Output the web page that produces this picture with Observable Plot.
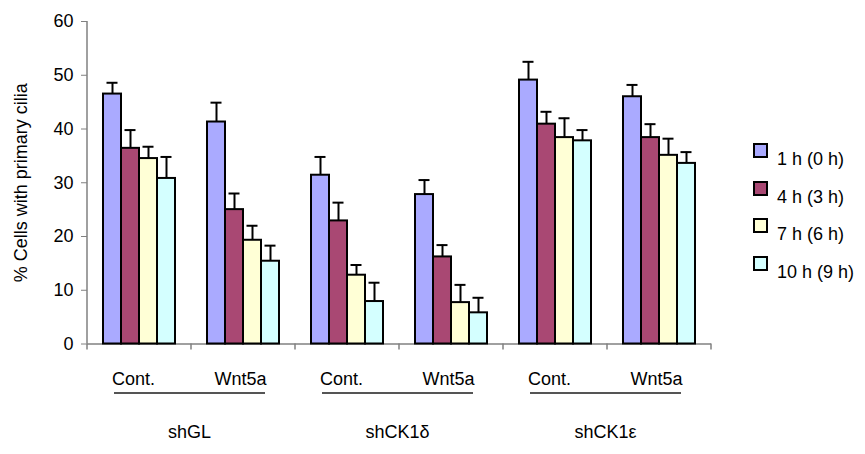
<!DOCTYPE html>
<html><head><meta charset="utf-8">
<script src="https://cdn.jsdelivr.net/npm/d3@7"></script>
<script src="https://cdn.jsdelivr.net/npm/@observablehq/plot@0.6"></script>
<style>
body{margin:0;background:#fff;}
#chart{position:relative;width:865px;height:454px;font-family:"Liberation Sans",Arial,sans-serif;color:#000;}
.sw{position:absolute;width:15px;height:15px;box-sizing:border-box;border:2px solid #000;}
.lt{position:absolute;font-size:18px;line-height:18px;white-space:nowrap;}
</style></head><body><div id="chart"></div>
<script>
const knockdowns = ["shGL", "shCK1δ", "shCK1ε"];
const treatments = ["Cont.", "Wnt5a"];
const series = ["1 h (0 h)", "4 h (3 h)", "7 h (6 h)", "10 h (9 h)"];
const colors = ["#AAAAFF", "#A94873", "#FFFFD6", "#D4FFFF"];
const yTicks = [0, 10, 20, 30, 40, 50, 60];
// values per series, in order: shGL Cont., shGL Wnt5a, shCK1δ Cont., shCK1δ Wnt5a, shCK1ε Cont., shCK1ε Wnt5a
const v1h  = [46.5, 41.3, 31.4, 27.8, 49.1, 46.0];
const v4h  = [36.4, 25.0, 22.9, 16.2, 40.9, 38.4];
const v7h  = [34.5, 19.3, 12.8, 7.7, 38.4, 35.1];
const v10h = [30.8, 15.4, 7.9, 5.8, 37.8, 33.6];
const e1h  = [2.1, 3.6, 3.4, 2.7, 3.4, 2.2];
const e4h  = [3.4, 3.0, 3.4, 2.2, 2.3, 2.5];
const e7h  = [2.2, 2.7, 1.9, 3.3, 3.6, 3.1];
const e10h = [4.0, 2.9, 3.5, 2.8, 2.0, 2.1];

const values = [v1h, v4h, v7h, v10h];
const errors = [e1h, e4h, e7h, e10h];

const cells = [];
knockdowns.forEach(k => treatments.forEach(t => cells.push({key: k + " " + t, knockdown: k, treatment: t})));
const keys = cells.map(c => c.key);
const rows = [];
cells.forEach((c, gi) => series.forEach((s, si) => rows.push({
  key: c.key, series: s, value: values[si][gi], upper: values[si][gi] + errors[si][gi]
})));
const contCells = cells.filter(c => c.treatment === treatments[0]);
const wntCells = cells.filter(c => c.treatment === treatments[1]);

const plot = Plot.plot({
  width: 865, height: 454,
  marginLeft: 85, marginRight: 152, marginTop: 21, marginBottom: 110.5,
  style: {fontFamily: "'Liberation Sans', Arial, sans-serif", fontSize: "18px", color: "#000", background: "#fff", overflow: "visible"},
  fx: {domain: keys, padding: 0, axis: null},
  x: {domain: series, paddingInner: 0, paddingOuter: 0.75, axis: null},
  y: {domain: [0, 60]},
  color: {domain: series, range: colors},
  marks: [
    Plot.ruleY([0], {stroke: "#808080", strokeWidth: 1.5}),
    Plot.barY(rows, {fx: "key", x: "series", y: "value", fill: "series", stroke: "#000", strokeWidth: 2}),
    Plot.ruleX(rows, {fx: "key", x: "series", y1: "value", y2: "upper", stroke: "#000", strokeWidth: 2}),
    Plot.tickY(rows, {fx: "key", x: "series", y: "upper", stroke: "#000", strokeWidth: 2, insetLeft: 3.5, insetRight: 3.5}),
    Plot.axisY({ticks: yTicks, tickSize: 6, tickPadding: 8, stroke: "#808080", tickFormat: d => d,
      label: "% Cells with primary cilia", labelAnchor: "center", labelArrow: "none", labelOffset: 73}),
    Plot.text(contCells, {fx: "key", text: "treatment", frameAnchor: "bottom", dx: -6, dy: 40.5, lineAnchor: "bottom", fill: "#000"}),
    Plot.text(wntCells, {fx: "key", text: "treatment", frameAnchor: "bottom", dx: -3, dy: 40.5, lineAnchor: "bottom", fill: "#000"}),
    Plot.ruleY(contCells, {fx: "key", y: () => 0, dy: 49, insetLeft: 27, insetRight: 0, stroke: "#555", strokeWidth: 1.8}),
    Plot.ruleY(wntCells, {fx: "key", y: () => 0, dy: 49, insetLeft: 0, insetRight: 30, stroke: "#555", strokeWidth: 1.8}),
    Plot.text(contCells, {fx: "key", text: "knockdown", frameAnchor: "bottom-right", textAnchor: "middle", dx: -2, dy: 93.5, lineAnchor: "bottom", fill: "#000"})
  ]
});

const chart = document.getElementById("chart");
chart.appendChild(plot);

// axis lines and group-boundary ticks from the plot's own scales
const fx = plot.scale("fx"), y = plot.scale("y");
const svg = d3.select(plot);
const g = svg.append("g").attr("stroke", "#808080").attr("stroke-width", 1.5);
const x0 = fx.apply(keys[0]);
g.append("line").attr("x1", x0).attr("x2", x0).attr("y1", y.apply(60)).attr("y2", y.apply(0));
const bounds = keys.map(k => fx.apply(k)).concat([fx.apply(keys[keys.length - 1]) + fx.bandwidth]);
bounds.forEach(b => g.append("line").attr("x1", b).attr("x2", b).attr("y1", y.apply(0)).attr("y2", y.apply(0) + 6));

// legend
series.forEach((s, i) => {
  const top = 143 + i * 37.7;
  const sw = document.createElement("div");
  sw.className = "sw";
  sw.style.left = "753px"; sw.style.top = top + "px"; sw.style.background = colors[i];
  chart.appendChild(sw);
  const t = document.createElement("div");
  t.className = "lt";
  t.style.left = "777px"; t.style.top = (top + 7) + "px";
  t.textContent = s;
  chart.appendChild(t);
});
</script></body></html>
